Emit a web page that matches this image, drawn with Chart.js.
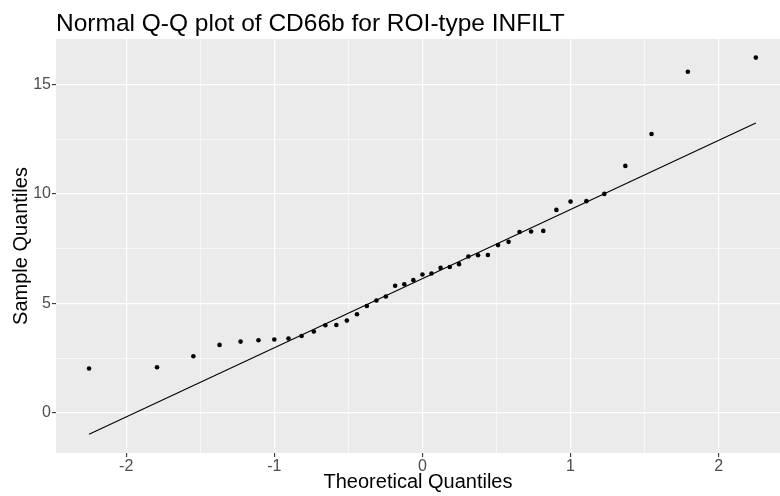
<!DOCTYPE html>
<html>
<head>
<meta charset="utf-8">
<script src="https://cdn.jsdelivr.net/npm/chart.js@4.4.1/dist/chart.umd.min.js"></script>
<style>
  html, body { margin: 0; padding: 0; background: #ffffff; overflow: hidden; }
  #wrap { width: 780px; height: 496px; }
  canvas { display: block; }
</style>
</head>
<body>
<div id="wrap"><canvas id="qqChart" width="780" height="496"></canvas></div>
<script>
// theoretical normal quantiles (n = 41)
const theoretical = [-2.2508, -1.7919, -1.5466, -1.3698, -1.2278, -1.1070, -1.0000, -0.9043, -0.8158, -0.7333,
    -0.6554, -0.5814, -0.5104, -0.4419, -0.3755, -0.3106, -0.2470, -0.1845, -0.1226, -0.0612,
    0,
    0.0612, 0.1226, 0.1845, 0.2470, 0.3106, 0.3755, 0.4419, 0.5104, 0.5814, 0.6554,
    0.7333, 0.8158, 0.9043, 1.0000, 1.1070, 1.2278, 1.3698, 1.5466, 1.7919, 2.2508];

// sorted CD66b sample values
const sample = [2.02, 2.08, 2.58, 3.10, 3.25, 3.31, 3.35, 3.39, 3.51, 3.71,
    4.00, 4.01, 4.21, 4.50, 4.88, 5.13, 5.31, 5.80, 5.87, 6.06,
    6.32,
    6.36, 6.62, 6.66, 6.79, 7.14, 7.20, 7.21, 7.66, 7.81, 8.26,
    8.28, 8.31, 9.27, 9.65, 9.67, 10.00, 11.28, 12.74, 15.58, 16.23];

// qq line end points
const lineX = [-2.2508, 2.2508];
const lineY = [-0.98, 13.24];

// grid / tick positions
const xTicks = [-2, -1.5, -1, -0.5, 0, 0.5, 1, 1.5, 2];
const yTicks = [0, 2.5, 5, 7.5, 10, 12.5, 15];
const xLabels = ['-2', '-1', '0', '1', '2'];
const yLabels = ['0', '5', '10', '15'];

const FONT = '"Liberation Sans", Arial, sans-serif';

const isMajorX = (v) => Number.isInteger(v);
const isMajorY = (v) => v % 5 === 0;

// grey panel behind the plot + main title
const panelPlugin = {
    id: 'panel',
    beforeDraw(chart) {
        const {ctx, chartArea} = chart;
        ctx.save();
        ctx.fillStyle = '#EBEBEB';
        ctx.fillRect(chartArea.left, chartArea.top, chartArea.right - chartArea.left, chartArea.bottom - chartArea.top);
        ctx.restore();
    },
    afterDraw(chart) {
        const {ctx, chartArea} = chart;
        ctx.save();
        ctx.fillStyle = '#000000';
        ctx.font = '24.5px ' + FONT;
        ctx.textAlign = 'left';
        ctx.textBaseline = 'alphabetic';
        ctx.fillText('Normal Q-Q plot of CD66b for ROI-type INFILT', chartArea.left, 31);
        ctx.restore();
    }
};

const ctx = document.getElementById('qqChart').getContext('2d');
const qqChart = new Chart(ctx, {
    type: 'scatter',
    data: {
        datasets: [
            {
                label: 'qqline',
                data: lineX.map((x, i) => ({x: x, y: lineY[i]})),
                showLine: true,
                borderColor: '#000000',
                borderWidth: 1.1,
                pointRadius: 0,
                order: 2
            },
            {
                label: 'CD66b',
                data: theoretical.map((x, i) => ({x: x, y: sample[i]})),
                backgroundColor: '#000000',
                borderColor: '#000000',
                borderWidth: 0,
                pointRadius: 2.3,
                order: 1
            }
        ]
    },
    options: {
        responsive: false,
        animation: false,
        events: [],
        // panel runs right up to the canvas edge, so no auto padding
        layout: { autoPadding: false, padding: { top: 39, right: 0, bottom: 0, left: 0 } },
        plugins: {
            legend: { display: false },
            tooltip: { enabled: false },
            title: { display: false }
        },
        scales: {
            x: {
                type: 'linear',
                min: -2.474,
                max: 2.414,
                afterBuildTicks: (axis) => { axis.ticks = xTicks.map(v => ({value: v})); },
                afterFit: (axis) => {
                    axis.height = 43;
                    axis.paddingLeft = 0;
                    axis.paddingRight = 0;
                },
                border: { display: false },
                grid: {
                    color: '#FFFFFF',
                    lineWidth: (c) => isMajorX(c.tick.value) ? 1.2 : 0.6,
                    drawTicks: true,
                    tickLength: 4,
                    tickWidth: 1.1,
                    tickColor: (c) => isMajorX(c.tick.value) ? '#333333' : 'rgba(0,0,0,0)'
                },
                ticks: {
                    autoSkip: false,
                    maxRotation: 0,
                    padding: 0,
                    color: '#4D4D4D',
                    font: { family: FONT, size: 16 },
                    callback: (v) => isMajorX(v) ? xLabels[xTicks.filter(isMajorX).indexOf(v)] : ''
                },
                title: {
                    display: true,
                    text: 'Theoretical Quantiles',
                    color: '#000000',
                    font: { family: FONT, size: 20 },
                    padding: { top: 0, bottom: 2 }
                }
            },
            y: {
                type: 'linear',
                min: -1.84,
                max: 17.08,
                afterBuildTicks: (axis) => { axis.ticks = yTicks.map(v => ({value: v})); },
                afterFit: (axis) => {
                    axis.width = 56;
                    axis.paddingTop = 0;
                    axis.paddingBottom = 0;
                },
                border: { display: false },
                grid: {
                    color: '#FFFFFF',
                    lineWidth: (c) => isMajorY(c.tick.value) ? 1.2 : 0.6,
                    drawTicks: true,
                    tickLength: 4,
                    tickWidth: 1.1,
                    tickColor: (c) => isMajorY(c.tick.value) ? '#333333' : 'rgba(0,0,0,0)'
                },
                ticks: {
                    autoSkip: false,
                    padding: 1,
                    color: '#4D4D4D',
                    font: { family: FONT, size: 16 },
                    callback: (v) => isMajorY(v) ? yLabels[yTicks.filter(isMajorY).indexOf(v)] : ''
                },
                title: {
                    display: true,
                    text: 'Sample Quantiles',
                    color: '#000000',
                    font: { family: FONT, size: 20 },
                    padding: { top: 9, bottom: 0 }
                }
            }
        }
    },
    plugins: [panelPlugin]
});
</script>
</body>
</html>
